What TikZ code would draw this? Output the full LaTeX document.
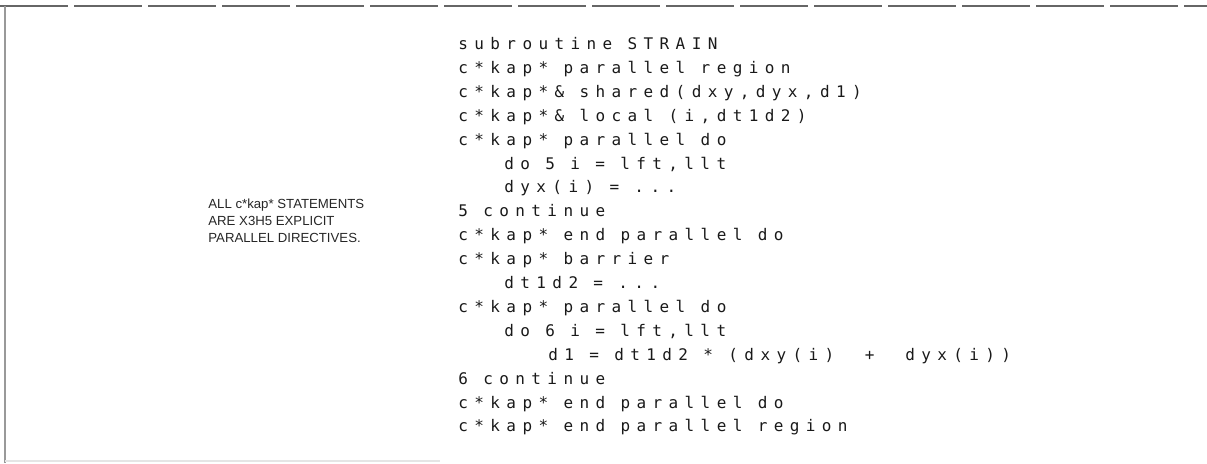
\documentclass[tikz,border=0pt]{standalone}
\usepackage{fontspec}
\setmainfont{Liberation Sans}
\newfontfamily\codefont[LetterSpace=40]{DejaVu Sans Mono}
\newcommand{\codesize}{\codefont\fontsize{8}{10}\selectfont
  \fontdimen2\font=7.67pt\fontdimen3\font=0pt\fontdimen4\font=0pt}

\begin{document}
\begin{tikzpicture}[
    x=0.5pt, y=-0.5pt,
    code/.style={anchor=base west, inner sep=0pt, text=black!90, font=\codesize},
    note/.style={anchor=north west, inner sep=0pt, align=left, text=black!85, font=\fontsize{6.6}{8.5}\selectfont},
    frame/.style={line width=1pt, draw=black!60}
]
\useasboundingbox (0,0) rectangle (1207,463);

% frame of the figure
\draw[frame, dash pattern=on 34pt off 3pt] (0,6) -- (1207,6);
\draw[frame, draw=black!40, line width=0.8pt] (5,6) -- (5,463);
\draw[draw=black!10, line width=1pt] (5,461) -- (440,461);

% left remark
\node[note] (remark) at (208,199) {ALL c*kap* STATEMENTS\\ARE X3H5 EXPLICIT\\PARALLEL DIRECTIVES.};

% the subroutine
\node[code] (sub) at (458,49.5) {subroutine STRAIN};
\node[code] (region) at (458,73.4) {c*kap* parallel region};
\node[code] (shared) at (458,97.3) {c*kap*\& shared(dxy,dyx,d1)};
\node[code] (local) at (458,121.2) {c*kap*\& local (i,dt1d2)};
\node[code] (pdoA) at (458,145.1) {c*kap* parallel do};
\node[code] (doA) at (504,169.0) {do 5 i = lft,llt};
\node[code] (dyx) at (504,192.9) {dyx(i) = ...};
\node[code] (contA) at (458,216.8) {5 continue};
\node[code] (endA) at (458,240.7) {c*kap* end parallel do};
\node[code] (barrier) at (458,264.6) {c*kap* barrier};
\node[code] (dtd) at (504,288.5) {dt1d2 = ...};
\node[code] (pdoB) at (458,312.4) {c*kap* parallel do};
\node[code] (doB) at (504,336.3) {do 6 i = lft,llt};
\node[code] (done) at (548,360.2) {d1 = dt1d2 * (dxy(i)~~+~~dyx(i))};
\node[code] (contB) at (458,384.1) {6 continue};
\node[code] (endB) at (458,408.0) {c*kap* end parallel do};
\node[code] (endreg) at (458,431.9) {c*kap* end parallel region};

\end{tikzpicture}
\end{document}
